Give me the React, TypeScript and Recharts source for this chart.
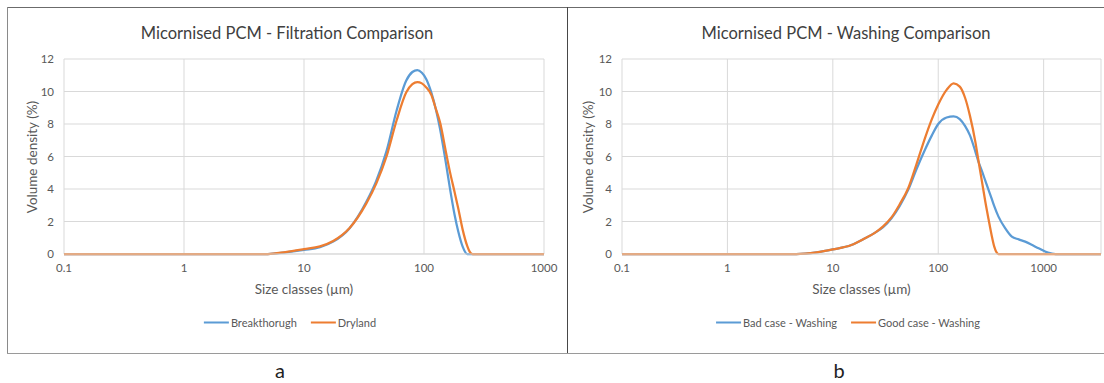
import React from "react";
import { LineChart, Line, XAxis, YAxis, CartesianGrid } from "recharts";

// Filtration comparison (panel a)
const filtrationSizes = [0.1, 1, 5, 7, 10, 13.6, 17.5, 24, 33, 40, 48.7, 59, 71, 80, 88, 96, 104.5, 115, 126.5, 136, 153, 164, 180, 193, 210, 229, 240, 254, 1000];
const breakthroughVolume = [0, 0, 0, 0.1, 0.25, 0.42, 0.76, 1.59, 3.2, 4.5, 6.33, 8.8, 10.66, 11.2, 11.32, 11.15, 10.76, 9.95, 8.8, 7.7, 5.5, 4.1, 2.4, 1.38, 0.45, 0, 0, 0, 0];
const drylandVolume = [0, 0, 0, 0.12, 0.3, 0.47, 0.8, 1.6, 3.1, 4.33, 6.0, 8.2, 9.94, 10.45, 10.58, 10.5, 10.25, 9.8, 8.85, 8.1, 6.2, 5.1, 3.8, 2.8, 1.5, 0.5, 0.15, 0, 0];

// Washing comparison (panel b)
const washingSizes = [0.1, 1, 4.5, 7, 10, 15, 20, 25, 30, 36, 43, 52, 62, 75, 87, 100, 120, 140, 160, 180, 200, 225, 240, 260, 280, 300, 320, 340, 373, 431, 499, 580, 668, 780, 896, 1100, 1300, 3500];
const badCaseVolume = [0, 0, 0, 0.1, 0.28, 0.55, 0.95, 1.3, 1.65, 2.2, 2.95, 3.96, 5.2, 6.43, 7.3, 8.0, 8.4, 8.47, 8.3, 7.87, 7.3, 6.3, 5.7, 5.1, 4.5, 3.95, 3.44, 2.95, 2.3, 1.59, 1.07, 0.9, 0.76, 0.55, 0.35, 0.08, 0, 0];
const goodCaseVolume = [0, 0, 0, 0.1, 0.28, 0.55, 0.95, 1.3, 1.7, 2.25, 3.05, 4.06, 5.5, 7.15, 8.3, 9.2, 10.1, 10.5, 10.3, 9.6, 8.5, 6.9, 5.8, 4.45, 3.2, 2.15, 1.2, 0.45, 0, 0, 0, 0, 0, 0, 0, 0, 0, 0];

const xTicks = [0.1, 1, 10, 100, 1000];
const yTicks = [0, 2, 4, 6, 8, 10, 12];

const BLUE = "#5b9bd5";
const ORANGE = "#ed7d31";
const FONT = "Lato, 'Open Sans', sans-serif";

const filtrationData = filtrationSizes.map((size, i) => ({ size, a: breakthroughVolume[i], b: drylandVolume[i] }));
const washingData = washingSizes.map((size, i) => ({ size, a: badCaseVolume[i], b: goodCaseVolume[i] }));

type PanelProps = {
  left: number;
  width: number;
  title: string;
  titleX: number;
  data: { size: number; a: number; b: number }[];
  xMax: number;
  yAxisWidth: number;
  marginRight: number;
  yLabelX: number;
  names: [string, string];
  legendX: number;
};

function centered(x: number, y: number, extra: React.CSSProperties = {}): React.CSSProperties {
  return { position: "absolute", left: x, top: y, transform: "translate(-50%, -50%)", whiteSpace: "nowrap", ...extra };
}

function Panel({ left, width, title, titleX, data, xMax, yAxisWidth, marginRight, yLabelX, names, legendX }: PanelProps) {
  const plotLeft = left + yAxisWidth;
  const plotRight = left + width - marginRight;
  const tick = { fontSize: 11.5, fill: "#595959", fontFamily: FONT };
  return (
    <>
      <div style={{ position: "absolute", left, top: 0 }}>
        <LineChart width={width} height={353} data={data} margin={{ top: 59, right: marginRight, left: 0, bottom: 69 }}>
          <CartesianGrid stroke="#d9d9d9" strokeWidth={1} />
          <XAxis
            dataKey="size"
            type="number"
            scale="log"
            domain={[0.1, xMax]}
            ticks={xTicks}
            allowDataOverflow
            tickLine={false}
            tickSize={6}
            tickMargin={4}
            axisLine={{ stroke: "#d9d9d9" }}
            tick={tick}
            height={30}
            interval={0}
          />
          <YAxis
            type="number"
            domain={[0, 12]}
            ticks={yTicks}
            tickLine={false}
            axisLine={false}
            tickSize={6}
            tickMargin={4}
            tick={tick}
            width={yAxisWidth}
          />
          <Line type="monotone" dataKey="a" name={names[0]} stroke={BLUE} strokeWidth={2.25} dot={false} isAnimationActive={false} />
          <Line type="monotone" dataKey="b" name={names[1]} stroke={ORANGE} strokeWidth={2.25} dot={false} isAnimationActive={false} />
        </LineChart>
      </div>
      <div style={centered(titleX, 33, { fontSize: 16.5, color: "#404040" })}>{title}</div>
      <div style={centered(yLabelX, 157, { fontSize: 13.5, color: "#595959", transform: "translate(-50%, -50%) rotate(-90deg)" })}>
        Volume density (%)
      </div>
      <div style={centered((plotLeft + plotRight) / 2, 289, { fontSize: 13.5, color: "#595959" })}>Size classes (µm)</div>
      <div style={centered(legendX, 322, { fontSize: 11, color: "#595959", display: "flex", alignItems: "center" })}>
        <span style={{ display: "inline-block", width: 25, height: 2, background: BLUE, marginRight: 2 }} />
        <span style={{ marginRight: 14 }}>{names[0]}</span>
        <span style={{ display: "inline-block", width: 25, height: 2, background: ORANGE, marginRight: 2 }} />
        <span>{names[1]}</span>
      </div>
    </>
  );
}

export default function App() {
  return (
    <div style={{ position: "absolute", left: 0, top: 0, width: 1104, height: 383, overflow: "hidden", background: "#fff", fontFamily: FONT }}>
      <Panel
        left={0}
        width={567}
        title="Micornised PCM - Filtration Comparison"
        titleX={287}
        data={filtrationData}
        xMax={1000}
        yAxisWidth={64}
        marginRight={23}
        yLabelX={32}
        names={["Breakthorugh", "Dryland"]}
        legendX={290}
      />
      <Panel
        left={567}
        width={537}
        title="Micornised PCM - Washing Comparison"
        titleX={846}
        data={washingData}
        xMax={3500}
        yAxisWidth={55}
        marginRight={3}
        yLabelX={588}
        names={["Bad case - Washing", "Good case - Washing"]}
        legendX={848}
      />
      {/* panel frames */}
      <div style={{ position: "absolute", left: 7, top: 7, width: 1097, height: 1, background: "#6b6b6b" }} />
      <div style={{ position: "absolute", left: 7, top: 7, width: 1, height: 346, background: "#8a8a8a" }} />
      <div style={{ position: "absolute", left: 567, top: 7, width: 1, height: 346, background: "#474747" }} />
      <div style={{ position: "absolute", left: 7, top: 353, width: 1097, height: 1, background: "#9a9a9a" }} />
      <div style={centered(280, 370, { fontSize: 20, color: "#222" })}>a</div>
      <div style={centered(839, 370, { fontSize: 20, color: "#222" })}>b</div>
    </div>
  );
}
